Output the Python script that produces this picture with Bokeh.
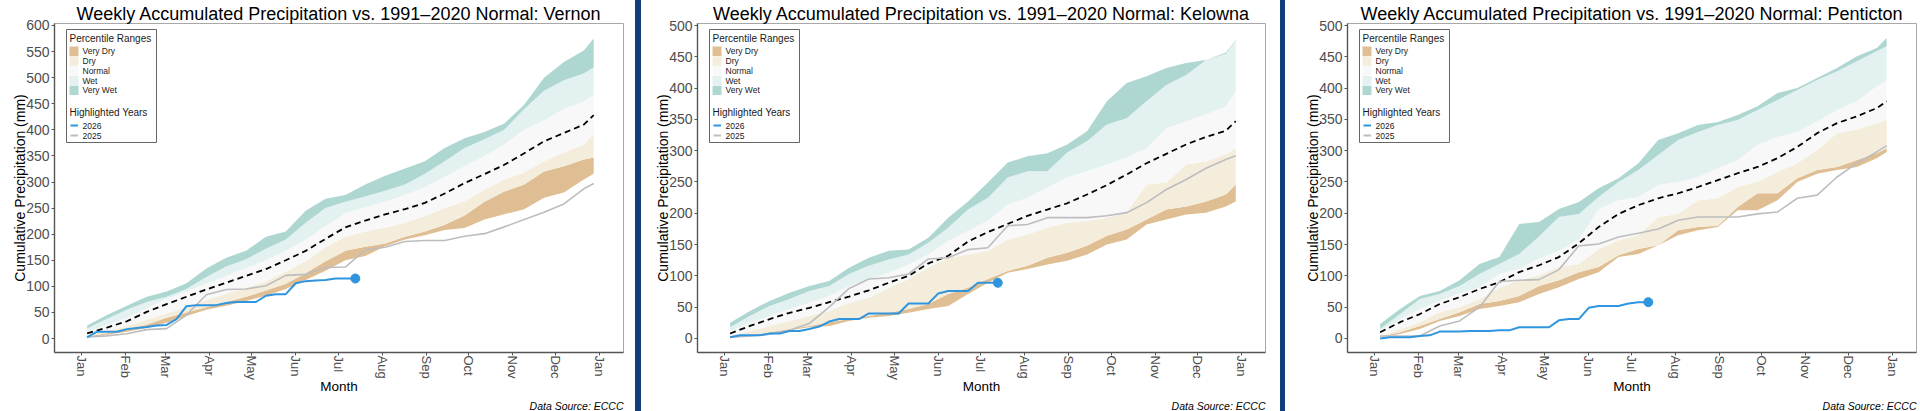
from bokeh.plotting import figure
from bokeh.layouts import row
from bokeh.models import Label, BoxAnnotation, Div, FixedTicker, Range1d, Title
from bokeh.embed import file_html
from bokeh.resources import INLINE

# ---------------- data ----------------
MONTH_STARTS = [0, 31, 59, 90, 120, 151, 181, 212, 243, 273, 304, 334, 365]
MONTH_LABELS = ["Jan", "Feb", "Mar", "Apr", "May", "Jun", "Jul", "Aug", "Sep", "Oct", "Nov", "Dec", "Jan"]

# day-of-year of the (bi)weekly points
DAYS = [4, 18, 32, 46, 60, 74, 88, 102, 116, 130, 144, 158, 172, 186, 200, 214, 228, 242, 256, 270,
        284, 298, 312, 326, 340, 354, 361]
DAYS_2026 = [4, 11, 18, 25, 32, 39, 46, 53, 60, 67, 74, 81, 88, 95, 102, 109, 116, 123, 130, 137,
             144, 151, 158, 165, 172, 179, 186, 193]

BAND_NAMES = ["Very Dry", "Dry", "Normal", "Wet", "Very Wet"]
BAND_COLORS = ["#E0BE94", "#F5EDDC", "#F8F8F8", "#E3F2F1", "#AFD7D2"]

# Vernon
VERNON_P0 = [2, 7, 13, 20, 30, 43, 55, 63, 72, 82, 95, 112, 130, 150, 158, 177, 190, 198, 208, 212, 228, 238, 248, 270, 280, 305, 316]
VERNON_P1 = [4, 10, 17, 27, 40, 50, 60, 70, 80, 92, 105, 125, 148, 168, 176, 182, 195, 205, 218, 236, 262, 282, 295, 320, 330, 343, 347]
VERNON_P2 = [7, 14, 24, 36, 48, 60, 74, 86, 97, 110, 128, 148, 175, 195, 205, 213, 222, 235, 250, 263, 285, 305, 318, 340, 356, 372, 392]
VERNON_P3 = [13, 26, 40, 58, 76, 90, 105, 120, 135, 150, 168, 190, 215, 240, 252, 262, 275, 290, 310, 330, 350, 372, 400, 418, 440, 455, 467]
VERNON_P4 = [19, 38, 55, 70, 80, 95, 118, 138, 152, 172, 190, 222, 250, 262, 272, 283, 295, 316, 340, 365, 382, 400, 440, 475, 495, 508, 520]
VERNON_P5 = [25, 45, 63, 80, 90, 106, 134, 155, 168, 195, 205, 245, 268, 275, 295, 312, 326, 340, 365, 384, 396, 412, 448, 500, 530, 552, 575]
VERNON_MEAN = [10, 21, 33, 51, 66, 80, 94, 107, 120, 133, 150, 168, 191, 213, 226, 238, 248, 260, 278, 298, 315, 333, 355, 378, 394, 410, 428]
VERNON_2025 = [3, 5, 9, 17, 19, 45, 84, 94, 95, 101, 121, 123, 136, 137, 170, 175, 186, 188, 188, 196, 201, 214, 228, 242, 258, 287, 297]
VERNON_2026 = [2, 13, 13, 13, 18, 20, 22, 25, 26, 37, 62, 64, 64, 64, 68, 70, 70, 70, 82, 85, 85, 106, 110, 111, 112, 115, 115, 115]

# Kelowna
KELOWNA_P0 = [1, 3, 7, 13, 18, 20, 28, 33, 36, 41, 47, 52, 71, 89, 105, 111, 118, 124, 134, 150, 158, 182, 190, 198, 201, 211, 219]
KELOWNA_P1 = [2, 4, 10, 15, 20, 26, 31, 36, 41, 47, 55, 71, 81, 95, 108, 116, 129, 137, 148, 164, 174, 190, 206, 211, 219, 230, 246]
KELOWNA_P2 = [4, 12, 20, 28, 36, 44, 57, 65, 81, 95, 113, 129, 134, 140, 158, 166, 177, 185, 188, 193, 201, 246, 249, 278, 283, 294, 304]
KELOWNA_P3 = [12, 25, 36, 47, 57, 68, 84, 95, 105, 118, 134, 156, 172, 188, 214, 225, 241, 257, 267, 278, 289, 304, 336, 347, 358, 371, 395]
KELOWNA_P4 = [18, 36, 52, 63, 76, 84, 103, 116, 126, 134, 153, 177, 206, 225, 257, 267, 267, 297, 315, 342, 352, 379, 405, 421, 445, 455, 476]
KELOWNA_P5 = [25, 44, 60, 73, 84, 92, 113, 129, 140, 142, 161, 193, 219, 249, 281, 291, 296, 310, 331, 379, 408, 419, 432, 440, 445, 457, 477]
KELOWNA_MEAN = [8, 20, 31, 41, 49, 58, 67, 77, 89, 100, 120, 132, 155, 170, 183, 196, 206, 216, 230, 245, 262, 280, 295, 310, 322, 332, 347]
KELOWNA_2025 = [2, 4, 7, 13, 24, 50, 80, 95, 97, 103, 127, 129, 142, 145, 180, 182, 193, 193, 193, 196, 201, 217, 238, 254, 272, 286, 292]
KELOWNA_2026 = [2, 5, 5, 5, 8, 8, 12, 12, 15, 19, 27, 31, 31, 31, 40, 40, 40, 40, 56, 56, 56, 72, 76, 76, 76, 89, 89, 89]

# Penticton
PENTICTON_P0 = [2, 7, 15, 28, 36, 47, 52, 58, 71, 82, 95, 106, 130, 135, 149, 165, 173, 178, 205, 205, 221, 250, 263, 269, 274, 288, 298]
PENTICTON_P1 = [3, 10, 20, 31, 42, 55, 60, 68, 84, 93, 106, 114, 133, 143, 149, 173, 178, 180, 210, 232, 232, 256, 269, 274, 285, 296, 304]
PENTICTON_P2 = [4, 15, 26, 42, 50, 63, 81, 93, 101, 114, 119, 143, 157, 165, 194, 199, 221, 224, 242, 250, 266, 280, 301, 328, 334, 344, 350]
PENTICTON_P3 = [12, 31, 47, 60, 72, 82, 103, 111, 128, 140, 158, 207, 221, 226, 245, 250, 258, 272, 285, 309, 322, 330, 347, 365, 379, 403, 413]
PENTICTON_P4 = [15, 39, 63, 71, 84, 103, 119, 135, 163, 194, 199, 226, 250, 269, 293, 317, 330, 341, 349, 365, 381, 397, 413, 427, 443, 459, 467]
PENTICTON_P5 = [23, 47, 68, 76, 93, 119, 130, 183, 186, 207, 218, 240, 256, 280, 317, 328, 341, 346, 357, 371, 392, 400, 416, 432, 451, 464, 480]
PENTICTON_MEAN = [10, 26, 39, 55, 66, 79, 90, 106, 117, 130, 152, 178, 199, 213, 224, 232, 242, 253, 264, 274, 288, 306, 328, 344, 355, 368, 379]
PENTICTON_2025 = [4, 4, 4, 20, 28, 50, 91, 93, 94, 110, 148, 151, 162, 168, 175, 189, 194, 194, 194, 199, 202, 224, 229, 258, 280, 298, 308]
PENTICTON_2026 = [0, 2, 2, 2, 4, 5, 11, 11, 11, 12, 12, 12, 13, 13, 18, 18, 18, 18, 29, 31, 31, 49, 52, 52, 52, 56, 58, 58]

VERNON_TICKS = [0, 50, 100, 150, 200, 250, 300, 350, 400, 450, 500, 550, 600]
OTHER_TICKS = [0, 50, 100, 150, 200, 250, 300, 350, 400, 450, 500]

# ---------------- styling ----------------
FONT = "Liberation Sans"
BLUE = "#2F95DE"
GREY = "#BDBDBD"
SEP = "#113D7A"
X0, X1 = -19.0, 382.0
H = 411
TOP, BOTTOM = 23, 59


def make_panel(station, width, left, right, y0, y1, yticks, bounds, mean, y2025, y2026):
    fw = width - left - right
    fh = H - TOP - BOTTOM
    p = figure(width=width, height=H, x_range=Range1d(X0, X1), y_range=Range1d(y0, y1),
               output_backend="svg", toolbar_location=None,
               min_border_left=left, min_border_right=right,
               min_border_top=TOP, min_border_bottom=BOTTOM)
    p.background_fill_color = "white"
    p.border_fill_color = "white"
    p.outline_line_color = "#A8A8A8"
    p.outline_line_width = 1
    p.grid.visible = False

    # title above the frame
    p.title.text = "Weekly Accumulated Precipitation vs. 1991\u20132020 Normal: " + station
    p.title.align = "center"
    p.title.text_font = FONT
    p.title.text_font_size = "18px"
    p.title.text_font_style = "normal"
    p.title.text_color = "black"
    p.title.standoff = 0

    ppx = fw / (X1 - X0)
    ppy = fh / (y1 - y0)

    def fx(px):
        return X0 + px / ppx

    def fy(px_down):
        return y1 - px_down / ppy

    # bands
    for i in range(5):
        p.varea(x=DAYS, y1=bounds[i], y2=bounds[i + 1], fill_color=BAND_COLORS[i], fill_alpha=1)
    p.line(DAYS, mean, line_color="black", line_width=1.8, line_dash="6 4")
    p.line(DAYS, y2025, line_color=GREY, line_width=1.6)
    p.line(DAYS_2026, y2026, line_color=BLUE, line_width=2)
    p.scatter([DAYS_2026[-1]], [y2026[-1]], size=9, color=BLUE)

    # axes
    xa = p.xaxis[0]
    ya = p.yaxis[0]
    xa.ticker = FixedTicker(ticks=MONTH_STARTS)
    xa.major_label_overrides = {d: l for d, l in zip(MONTH_STARTS, MONTH_LABELS)}
    xa.major_label_orientation = "vertical"
    ya.ticker = FixedTicker(ticks=yticks)
    for ax in (xa, ya):
        ax.axis_line_color = "#555555"
        ax.axis_line_width = 1.4
        ax.major_tick_line_color = "#555555"
        ax.major_tick_out = 3
        ax.major_tick_in = 0
        ax.minor_tick_line_color = None
        ax.minor_tick_out = 0
        ax.minor_tick_in = 0
        ax.major_label_text_font = FONT
        ax.major_label_text_color = "#4D4D4D"
        ax.axis_label_text_font = FONT
        ax.axis_label_text_font_style = "normal"
        ax.axis_label_text_color = "black"
    xa.major_label_standoff = 0
    ya.major_label_standoff = 2
    xa.major_label_text_font_size = "13px"
    ya.major_label_text_font_size = "14px"
    ya.axis_label = "Cumulative Precipitation (mm)"
    ya.axis_label_text_font_size = "14px"
    ya.axis_label_standoff = -5
    xa.axis_label = "Month"
    xa.axis_label_text_font_size = "13.5px"
    xa.axis_label_standoff = -4

    # caption below
    p.add_layout(Title(text="Data Source: ECCC", align="right", text_font=FONT, text_font_size="10.5px",
                       text_font_style="italic", text_color="black", standoff=0), "below")

    # legend box
    p.add_layout(BoxAnnotation(left=fx(12), right=fx(102), top=fy(6), bottom=fy(119),
                               fill_color="white", fill_alpha=1, line_color="#666666", line_width=1, line_alpha=1))
    p.add_layout(Label(x=fx(15), y=fy(15), text="Percentile Ranges", text_baseline="middle",
                       text_font=FONT, text_font_size="10px", text_color="#1A1A1A"))
    centers = [27.7, 37.5, 47.3, 57.1, 66.9]
    for name, col, c in zip(BAND_NAMES, BAND_COLORS, centers):
        p.add_layout(BoxAnnotation(left=fx(15), right=fx(24), top=fy(c - 4.7), bottom=fy(c + 4.7),
                                   fill_color=col, fill_alpha=1, line_alpha=0))
        p.add_layout(Label(x=fx(28), y=fy(c), text=name, text_baseline="middle",
                           text_font=FONT, text_font_size="8.5px", text_color="#1A1A1A"))
    p.add_layout(Label(x=fx(15), y=fy(89), text="Highlighted Years", text_baseline="middle",
                       text_font=FONT, text_font_size="10px", text_color="#1A1A1A"))
    for yr, col, c in (("2026", BLUE, 102), ("2025", GREY, 112)):
        p.add_layout(BoxAnnotation(left=fx(16), right=fx(23.5), top=fy(c - 0.9), bottom=fy(c + 0.9),
                                   fill_color=col, fill_alpha=1, line_alpha=0))
        p.add_layout(Label(x=fx(28), y=fy(c), text=yr, text_baseline="middle",
                           text_font=FONT, text_font_size="8.5px", text_color="#1A1A1A"))
    return p


p1 = make_panel("Vernon", 635, 54, 12, -26.8, 603.8, VERNON_TICKS,
                [VERNON_P0, VERNON_P1, VERNON_P2, VERNON_P3, VERNON_P4, VERNON_P5],
                VERNON_MEAN, VERNON_2025, VERNON_2026)
p2 = make_panel("Kelowna", 639, 56, 15, -22.4, 503.2, OTHER_TICKS,
                [KELOWNA_P0, KELOWNA_P1, KELOWNA_P2, KELOWNA_P3, KELOWNA_P4, KELOWNA_P5],
                KELOWNA_MEAN, KELOWNA_2025, KELOWNA_2026)
p3 = make_panel("Penticton", 635, 62, 4, -22.4, 503.2, OTHER_TICKS,
                [PENTICTON_P0, PENTICTON_P1, PENTICTON_P2, PENTICTON_P3, PENTICTON_P4, PENTICTON_P5],
                PENTICTON_MEAN, PENTICTON_2025, PENTICTON_2026)

d1 = Div(text="", width=6, height=H, margin=0, styles={"background-color": SEP})
d2 = Div(text="", width=5, height=H, margin=0, styles={"background-color": SEP})

layout = row(p1, d1, p2, d2, p3, spacing=0)
open("out.html", "w").write(file_html(layout, INLINE))
